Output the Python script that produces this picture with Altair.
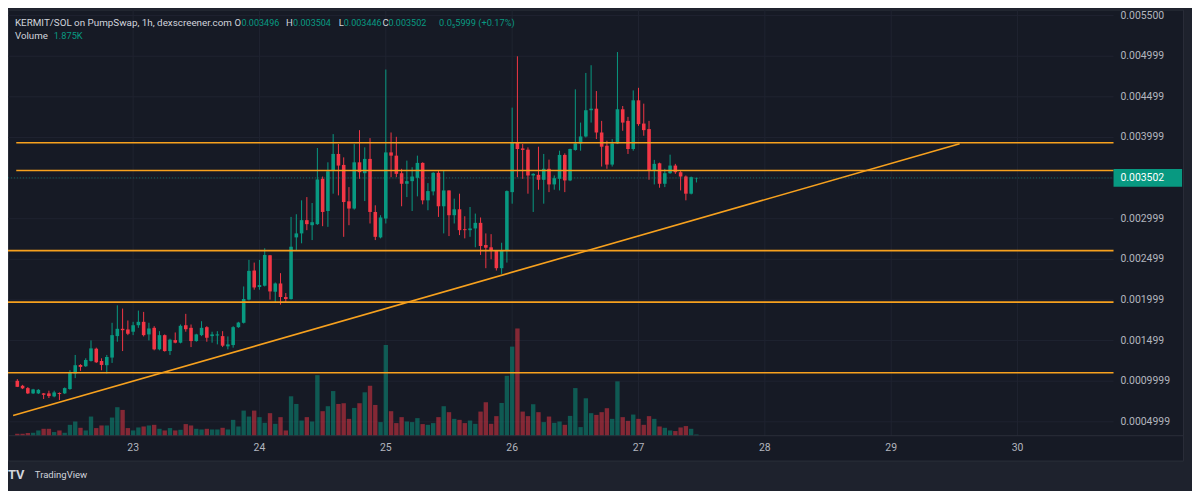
import altair as alt
import pandas as pd

# ---------------- data ----------------
# candle time in hours since day 22 00:00 (1h candles)
hours = list(range(2, 132))

open_ = [
    0.001005, 0.000944, 0.000915, 0.000850, 0.000850, 0.000850, 0.000850, 0.000813, 0.000854, 0.000850,
    0.000903, 0.001095, 0.001200, 0.001184, 0.001249, 0.001400, 0.001249, 0.001197, 0.001291, 0.001555,
    0.001645, 0.001637, 0.001609, 0.001689, 0.001731, 0.001576, 0.001657, 0.001392, 0.001567, 0.001371,
    0.001506, 0.001474, 0.001689, 0.001657, 0.001494, 0.001567, 0.001665, 0.001555, 0.001563, 0.001555,
    0.001429, 0.001445, 0.001665, 0.001719, 0.002004, 0.002362, 0.002159, 0.002175, 0.002550, 0.002101,
    0.002203, 0.002036, 0.002012, 0.002770, 0.002819, 0.002982, 0.002920, 0.002933, 0.003491, 0.003095,
    0.003593, 0.003797, 0.003662, 0.003214, 0.003125, 0.003694, 0.003560, 0.003736, 0.003083, 0.002770,
    0.003002, 0.003816, 0.003776, 0.003560, 0.003430, 0.003462, 0.003503, 0.003687, 0.003226, 0.003336,
    0.003565, 0.003153, 0.003348, 0.003043, 0.003116, 0.002871, 0.002859, 0.002880, 0.002949, 0.002676,
    0.002648, 0.002606, 0.002391, 0.002606, 0.003327, 0.003939, 0.003865, 0.003850, 0.003532, 0.003540,
    0.003479, 0.003614, 0.003422, 0.003491, 0.003785, 0.003471, 0.003846, 0.003926, 0.004012, 0.004335,
    0.004354, 0.004061, 0.003898, 0.003666, 0.003926, 0.004347, 0.004204, 0.003858, 0.004457, 0.004171,
    0.004103, 0.003593, 0.003682, 0.003430, 0.003560, 0.003654, 0.003572, 0.003519, 0.003308, 0.003496,
]
high = [
    0.001026, 0.000955, 0.000928, 0.000906, 0.000903, 0.000854, 0.000883, 0.000883, 0.000862, 0.000923,
    0.001135, 0.001323, 0.001209, 0.001282, 0.001502, 0.001413, 0.001282, 0.001323, 0.001719, 0.001934,
    0.001894, 0.001747, 0.001731, 0.001869, 0.001853, 0.001719, 0.001677, 0.001616, 0.001576, 0.001523,
    0.001600, 0.001698, 0.001829, 0.001698, 0.001584, 0.001738, 0.001677, 0.001609, 0.001616, 0.001616,
    0.001551, 0.001677, 0.001731, 0.002166, 0.002493, 0.002460, 0.002493, 0.002636, 0.002554, 0.002215,
    0.002330, 0.002085, 0.003022, 0.003055, 0.003226, 0.003266, 0.003193, 0.003870, 0.003519, 0.003694,
    0.004041, 0.003919, 0.003755, 0.003389, 0.003919, 0.004090, 0.003878, 0.003992, 0.003165, 0.003043,
    0.004836, 0.004061, 0.004008, 0.003614, 0.003715, 0.003633, 0.003776, 0.003694, 0.003438, 0.003572,
    0.003593, 0.003593, 0.003348, 0.003247, 0.003308, 0.003030, 0.003144, 0.003063, 0.003015, 0.002819,
    0.002810, 0.002615, 0.002704, 0.003348, 0.004367, 0.004999, 0.003919, 0.003878, 0.003560, 0.003886,
    0.003797, 0.003727, 0.003532, 0.003837, 0.003804, 0.003862, 0.004592, 0.004183, 0.004794, 0.004889,
    0.004571, 0.004204, 0.003960, 0.003980, 0.005051, 0.004387, 0.004253, 0.004579, 0.004611, 0.004416,
    0.004204, 0.003724, 0.003690, 0.003614, 0.003788, 0.003675, 0.003593, 0.003532, 0.003519, 0.003504,
]
low = [
    0.000928, 0.000903, 0.000842, 0.000842, 0.000842, 0.000781, 0.000793, 0.000802, 0.000769, 0.000842,
    0.000894, 0.001038, 0.001127, 0.001176, 0.001242, 0.001225, 0.001135, 0.001095, 0.001225, 0.001486,
    0.001371, 0.001567, 0.001567, 0.001657, 0.001551, 0.001502, 0.001380, 0.001380, 0.001364, 0.001323,
    0.001466, 0.001466, 0.001609, 0.001420, 0.001486, 0.001555, 0.001486, 0.001474, 0.001453, 0.001420,
    0.001392, 0.001413, 0.001657, 0.001710, 0.001995, 0.002126, 0.002126, 0.002166, 0.002004, 0.001971,
    0.001942, 0.001963, 0.002004, 0.002615, 0.002697, 0.002859, 0.002737, 0.002924, 0.002908, 0.002900,
    0.003308, 0.003287, 0.002777, 0.002920, 0.003112, 0.003491, 0.003217, 0.002941, 0.002737, 0.002758,
    0.002941, 0.003511, 0.003511, 0.003153, 0.003266, 0.003095, 0.003275, 0.003177, 0.003104, 0.003287,
    0.003022, 0.002819, 0.002786, 0.002941, 0.002798, 0.002758, 0.002777, 0.002648, 0.002554, 0.002391,
    0.002501, 0.002362, 0.002321, 0.002460, 0.003185, 0.003511, 0.003491, 0.003308, 0.003083, 0.003357,
    0.003185, 0.003327, 0.003357, 0.003348, 0.003327, 0.003462, 0.003837, 0.003837, 0.004000, 0.004183,
    0.003980, 0.003642, 0.003614, 0.003642, 0.003919, 0.004082, 0.003797, 0.003837, 0.004143, 0.004021,
    0.003479, 0.003422, 0.003381, 0.003389, 0.003552, 0.003552, 0.003348, 0.003226, 0.003299, 0.003446,
]
close = [
    0.000931, 0.000912, 0.000850, 0.000899, 0.000894, 0.000833, 0.000817, 0.000862, 0.000842, 0.000915,
    0.001107, 0.001197, 0.001176, 0.001261, 0.001404, 0.001233, 0.001200, 0.001298, 0.001567, 0.001645,
    0.001628, 0.001584, 0.001689, 0.001731, 0.001567, 0.001649, 0.001392, 0.001567, 0.001371, 0.001511,
    0.001474, 0.001682, 0.001640, 0.001494, 0.001576, 0.001657, 0.001535, 0.001576, 0.001576, 0.001437,
    0.001453, 0.001665, 0.001722, 0.002012, 0.002358, 0.002154, 0.002183, 0.002554, 0.002105, 0.002203,
    0.002036, 0.002012, 0.002655, 0.002819, 0.002982, 0.002933, 0.002957, 0.003483, 0.003083, 0.003584,
    0.003797, 0.003654, 0.003205, 0.003125, 0.003694, 0.003572, 0.003736, 0.003083, 0.002777, 0.003015,
    0.003816, 0.003776, 0.003552, 0.003430, 0.003462, 0.003519, 0.003687, 0.003226, 0.003340, 0.003565,
    0.003153, 0.003348, 0.003043, 0.003116, 0.002859, 0.002859, 0.002880, 0.002949, 0.002664, 0.002643,
    0.002606, 0.002391, 0.002606, 0.003340, 0.003939, 0.003858, 0.003846, 0.003532, 0.003552, 0.003479,
    0.003614, 0.003422, 0.003499, 0.003785, 0.003471, 0.003858, 0.003926, 0.004012, 0.004335, 0.004354,
    0.004061, 0.003886, 0.003666, 0.003926, 0.004347, 0.004183, 0.003858, 0.004457, 0.004164, 0.004090,
    0.003593, 0.003675, 0.003430, 0.003560, 0.003654, 0.003572, 0.003519, 0.003308, 0.003511, 0.003502,
]
volume_k = [
    3.0, 3.0, 4.1, 4.5, 8.0, 10.5, 10.5, 5.6, 8.0, 4.5,
    16.5, 21.5, 12.0, 8.0, 29.0, 11.6, 15.5, 15.5, 27.5, 43.1,
    39.0, 11.6, 8.0, 12.5, 14.0, 15.5, 16.5, 10.5, 8.0, 11.6,
    8.0, 9.0, 17.6, 15.5, 10.5, 9.5, 10.5, 9.5, 9.5, 12.0,
    9.5, 24.0, 14.0, 38.0, 29.0, 38.0, 28.1, 19.5, 34.1, 18.0,
    28.1, 8.0, 59.6, 48.0, 23.0, 28.1, 21.5, 91.5, 37.1, 44.6,
    67.5, 48.0, 49.1, 25.5, 42.0, 49.1, 65.6, 75.5, 46.5, 20.6,
    137.0, 37.1, 19.1, 28.1, 21.5, 20.6, 26.6, 17.6, 16.5, 19.1,
    28.1, 44.6, 35.6, 25.5, 24.0, 19.1, 23.0, 18.0, 36.5, 50.6,
    18.0, 29.6, 49.5, 90.5, 134.6, 162.0, 36.5, 29.6, 47.6, 35.6,
    20.6, 29.0, 19.5, 21.5, 16.5, 30.0, 72.0, 13.1, 56.6, 34.1,
    31.5, 35.6, 41.6, 25.5, 82.1, 28.1, 22.5, 32.0, 25.5, 16.5,
    29.6, 25.5, 14.0, 12.0, 8.0, 7.1, 12.5, 14.6, 10.5, 1.875,
]

price_ticks = [0.0005, 0.001, 0.0015, 0.002, 0.0025, 0.003, 0.0035, 0.004, 0.0045, 0.005, 0.0055]
price_tick_labels = ["0.0004999", "0.0009999", "0.001499", "0.001999", "0.002499", "0.002999",
                     "", "0.003999", "0.004499", "0.004999", "0.005500"]
day_hours = [24, 48, 72, 96, 120, 144, 168, 192]
day_labels = ["23", "24", "25", "26", "27", "28", "29", "30"]

level_prices = [0.003935, 0.003593, 0.002607, 0.001973, 0.001105]
level_start_hours = [1.8, 1.8, 0, 0, 0]
trend_hours = [1.2, 181]
trend_prices = [0.000577, 0.003923]
last_price = 0.003502
last_price_label = "0.003502"

header_pairs = [("O", "0.003496"), ("H", "0.003504"), ("L", "0.003446"), ("C", "0.003502")]
change_text = "0.0\u20855999 (+0.17%)"
volume_text = "1.875K"

# ---------------- layout / style ----------------
W, H = 1183, 454          # chart frame (view)
PLOT_W, PLOT_H = 1113, 429
BG_OUT = "#1e222d"
BG_IN = "#161a25"
GRID = "#1f2330"
BORDER = "#2a2e39"
UP = "#089981"
DOWN = "#f23645"
ORANGE = "#f7a11e"
TXT = "#b2b5be"
HEAD = "#d1d4dc"
FONT = "Roboto"

xs = alt.Scale(domain=[1.175, 222.5], nice=False, zero=False)
ys = alt.Scale(domain=[0.0000232, 0.0055733], nice=False, zero=False)
vs = alt.Scale(domain=[-37.5, 643.5], nice=False, zero=False)
cs = alt.Scale(domain=["up", "down"], range=[UP, DOWN])

df = pd.DataFrame({"h": hours, "open": open_, "high": high, "low": low,
                   "close": close, "vol": volume_k})
df["dir"] = ["up" if c >= o else "down" for o, c in zip(open_, close)]

one = pd.DataFrame({"k": [0]})

X = lambda f: alt.X(f, scale=xs, axis=None)
Y = lambda f: alt.Y(f, scale=ys, axis=None)
COL = alt.Color("dir:N", scale=cs, legend=None)

grid_h = alt.Chart(pd.DataFrame({"price": price_ticks})).mark_rule(color=GRID, strokeWidth=1).encode(
    y=Y("price:Q"), x=alt.value(0), x2=alt.value(PLOT_W))
grid_v = alt.Chart(pd.DataFrame({"h": day_hours})).mark_rule(color=GRID, strokeWidth=1).encode(
    x=X("h:Q"), y=alt.value(0), y2=alt.value(PLOT_H))

vol = alt.Chart(df).mark_bar(size=4.4, opacity=0.5).encode(
    x=X("h:Q"), y=alt.Y("vol:Q", scale=vs, axis=None), y2=alt.datum(0), color=COL)

wick = alt.Chart(df).mark_rule(strokeWidth=1).encode(
    x=X("h:Q"), y=Y("low:Q"), y2="high:Q", color=COL)
body = alt.Chart(df).mark_bar(size=3.6).encode(
    x=X("h:Q"), y=Y("open:Q"), y2="close:Q", color=COL)

levels = alt.Chart(pd.DataFrame({"price": level_prices, "start": level_start_hours})).mark_rule(
    color=ORANGE, strokeWidth=1.6, clip=True).encode(
    x=X("start:Q"), x2=alt.value(PLOT_W), y=Y("price:Q"))

trend = alt.Chart(pd.DataFrame({"h": trend_hours, "price": trend_prices})).mark_line(
    color=ORANGE, strokeWidth=1.6).encode(x=X("h:Q"), y=Y("price:Q"))

last_line = alt.Chart(pd.DataFrame({"price": [last_price]})).mark_rule(
    color=UP, opacity=0.6, strokeDash=[1, 2], strokeWidth=1).encode(
    y=Y("price:Q"), x=alt.value(0), x2=alt.value(PLOT_W))

separator = alt.Chart(one).mark_rule(color=BORDER, strokeWidth=1).encode(
    x=alt.value(0), x2=alt.value(W), y=alt.value(PLOT_H))

plab_df = pd.DataFrame({"price": price_ticks, "label": price_tick_labels})
price_labels = alt.Chart(plab_df).mark_text(
    align="left", baseline="middle", font=FONT, fontSize=10.5, color=TXT).encode(
    y=Y("price:Q"), x=alt.value(1120), text="label:N")

box = alt.Chart(pd.DataFrame({"price": [last_price]})).transform_calculate(
    top="datum.price + 0.00011", bot="datum.price - 0.00011").mark_rect(color=UP).encode(
    y=Y("top:Q"), y2="bot:Q", x=alt.value(PLOT_W), x2=alt.value(1182))
box_text = alt.Chart(pd.DataFrame({"price": [last_price], "label": [last_price_label]})).mark_text(
    align="left", baseline="middle", font=FONT, fontSize=10.5, color="#ffffff").encode(
    y=Y("price:Q"), x=alt.value(1120), text="label:N")

time_labels = alt.Chart(pd.DataFrame({"h": day_hours, "label": day_labels})).mark_text(
    align="center", baseline="middle", font=FONT, fontSize=10.5, color=TXT).encode(
    x=X("h:Q"), y=alt.value(441), text="label:N")


def txt(s, x, y, color, size=9.4, weight="normal"):
    return alt.Chart(one).mark_text(align="left", baseline="middle", font=FONT, fontSize=size,
                                    color=color, fontWeight=weight).encode(
        x=alt.value(x), y=alt.value(y), text=alt.value(s))


head = [txt("KERMIT/SOL on PumpSwap, 1h, dexscreener.com", 7, 13.5, HEAD, size=9.9)]
hx = [(228, 235), (280, 287), (333, 338), (377, 383)]
for (k, v), (xk, xv) in zip(header_pairs, hx):
    head.append(txt(k, xk, 13.5, HEAD, size=9.6))
    head.append(txt(v, xv, 13.5, UP, size=9.1))
head.append(txt(change_text, 434, 13.5, UP, size=9.3))
head.append(txt("Volume", 7, 27, HEAD, size=9.8))
head.append(txt(volume_text, 46, 27, UP, size=9.3))
head.append(txt("TV", 0, 469, HEAD, size=13, weight="bold"))
head.append(txt("TradingView", 27, 469, HEAD, size=9.6))

chart = alt.layer(
    grid_h, grid_v, vol, wick, body, levels, trend, last_line, separator,
    price_labels, box, box_text, time_labels, *head
).resolve_scale(y="independent").properties(
    width=W, height=H, background=BG_OUT,
    padding={"left": 0, "top": 0, "right": 9, "bottom": 29},
    autosize=alt.AutoSizeParams(type="none"),
).configure_view(fill=BG_IN, stroke=BORDER, strokeWidth=1)

chart.save("out.html", embed_options={"renderer": "svg", "actions": False})
